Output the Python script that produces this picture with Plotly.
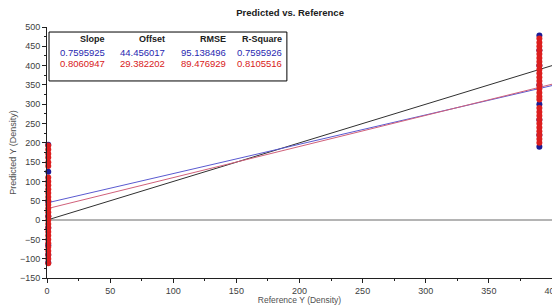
import plotly.graph_objects as go

# ---- data ----
cal_ref = [1, 1, 1, 1, 1, 1, 1, 1, 390, 390, 390, 390, 390, 390, 390, 390]
cal_pred = [195, 125, 48, 10, -20, -65, -90, -110, 478, 440, 400, 350, 300, 260, 220, 190]

val_ref = [1, 1, 1, 1, 1, 1, 1, 1, 1, 1, 1, 1, 1, 1, 1, 1, 1, 1, 1, 1, 1, 1, 1, 1, 1, 1, 1, 1, 1,
           390, 390, 390, 390, 390, 390, 390, 390, 390, 390, 390, 390, 390, 390, 390, 390,
           390, 390, 390, 390, 390, 390, 390, 390, 390, 390, 390]
val_pred = [193, 183, 172, 162, 150, 140, 110, 100, 90, 80, 70, 60, 50, 40, 30, 20, 10, 0,
            -10, -20, -30, -40, -50, -60, -70, -80, -90, -100, -112,
            470, 460, 450, 440, 430, 420, 410, 400, 390, 380, 370, 360, 350, 340, 330, 320,
            312, 290, 280, 270, 260, 250, 240, 230, 220, 210, 200]

line_x = [0, 400]
ideal_y = [0, 400]
headers = ["Slope", "Offset", "RMSE", "R-Square"]
cal_stats = ["0.7595925", "44.456017", "95.138496", "0.7595926"]
val_stats = ["0.8060947", "29.382202", "89.476929", "0.8105516"]
cal_slope, cal_offset = 0.7595925, 44.456017
val_slope, val_offset = 0.8060947, 29.382202

FONT = "Liberation Sans, Arial, sans-serif"
BLUE_T = "#2828b0"
RED_T = "#d82020"

fig = go.Figure()
fig.add_trace(go.Scatter(x=line_x, y=ideal_y, mode="lines",
                         line=dict(color="#303030", width=1), hoverinfo="skip"))
fig.add_trace(go.Scatter(x=line_x, y=[cal_offset + cal_slope * v for v in line_x], mode="lines",
                         line=dict(color="#5a5ad0", width=1), hoverinfo="skip"))
fig.add_trace(go.Scatter(x=line_x, y=[val_offset + val_slope * v for v in line_x], mode="lines",
                         line=dict(color="#d0607a", width=1), hoverinfo="skip"))
fig.add_trace(go.Scatter(x=cal_ref, y=cal_pred, mode="markers", cliponaxis=False,
                         marker=dict(color="#1c1c96", size=6, line=dict(width=0))))
fig.add_trace(go.Scatter(x=val_ref, y=val_pred, mode="markers", cliponaxis=False,
                         marker=dict(color="#dc1e1e", size=6, line=dict(width=0))))

# stats table
fig.add_shape(type="rect", xref="paper", yref="paper", x0=0.004, x1=0.475, y0=0.785, y1=0.98,
              line=dict(color="black", width=1), fillcolor="white", layer="above")
col_x = [0.119, 0.238, 0.358, 0.469]
for i in range(4):
    fig.add_annotation(x=col_x[i], y=0.952, xref="paper", yref="paper", text="<b>" + headers[i] + "</b>",
                       showarrow=False, xanchor="right", yanchor="middle",
                       font=dict(family=FONT, size=9, color="#202020"))
    fig.add_annotation(x=col_x[i], y=0.900, xref="paper", yref="paper", text=cal_stats[i],
                       showarrow=False, xanchor="right", yanchor="middle",
                       font=dict(family=FONT, size=9.5, color=BLUE_T))
    fig.add_annotation(x=col_x[i], y=0.855, xref="paper", yref="paper", text=val_stats[i],
                       showarrow=False, xanchor="right", yanchor="middle",
                       font=dict(family=FONT, size=9.5, color=RED_T))

fig.update_layout(
    width=552, height=297,
    margin=dict(l=39, r=8, t=19, b=27),
    paper_bgcolor="white", plot_bgcolor="white",
    showlegend=False,
    title=dict(text="<b>Predicted vs. Reference</b>", x=0.511, xanchor="center",
               y=0.983, yanchor="middle", yref="container",
               font=dict(family=FONT, size=9.5, color="#202020")),
    font=dict(family=FONT, size=9, color="#404040"),
)
fig.update_xaxes(range=[0, 400], dtick=50, showgrid=False, zeroline=False, automargin=False,
                 showline=True, linecolor="#202020", linewidth=1,
                 ticks="outside", ticklen=4, tickcolor="#202020",
                 minor=dict(dtick=25, ticks="outside", ticklen=2, tickcolor="#202020"),
                 tickfont=dict(size=9, color="#404040"),
                 title=dict(text="Reference Y (Density)", standoff=0, font=dict(size=8.5, color="#505050")))
fig.update_yaxes(range=[-150, 500], dtick=50, showgrid=False, automargin=False,
                 zeroline=True, zerolinecolor="#b4b4b4", zerolinewidth=1.5,
                 showline=True, linecolor="#202020", linewidth=1,
                 ticks="outside", ticklen=4, tickcolor="#202020",
                 minor=dict(dtick=25, ticks="outside", ticklen=2, tickcolor="#202020"),
                 tickfont=dict(size=9, color="#404040"),
                 title=dict(text="Predicted Y (Density)", standoff=2, font=dict(size=9, color="#505050")))

fig.write_html("out.html")
